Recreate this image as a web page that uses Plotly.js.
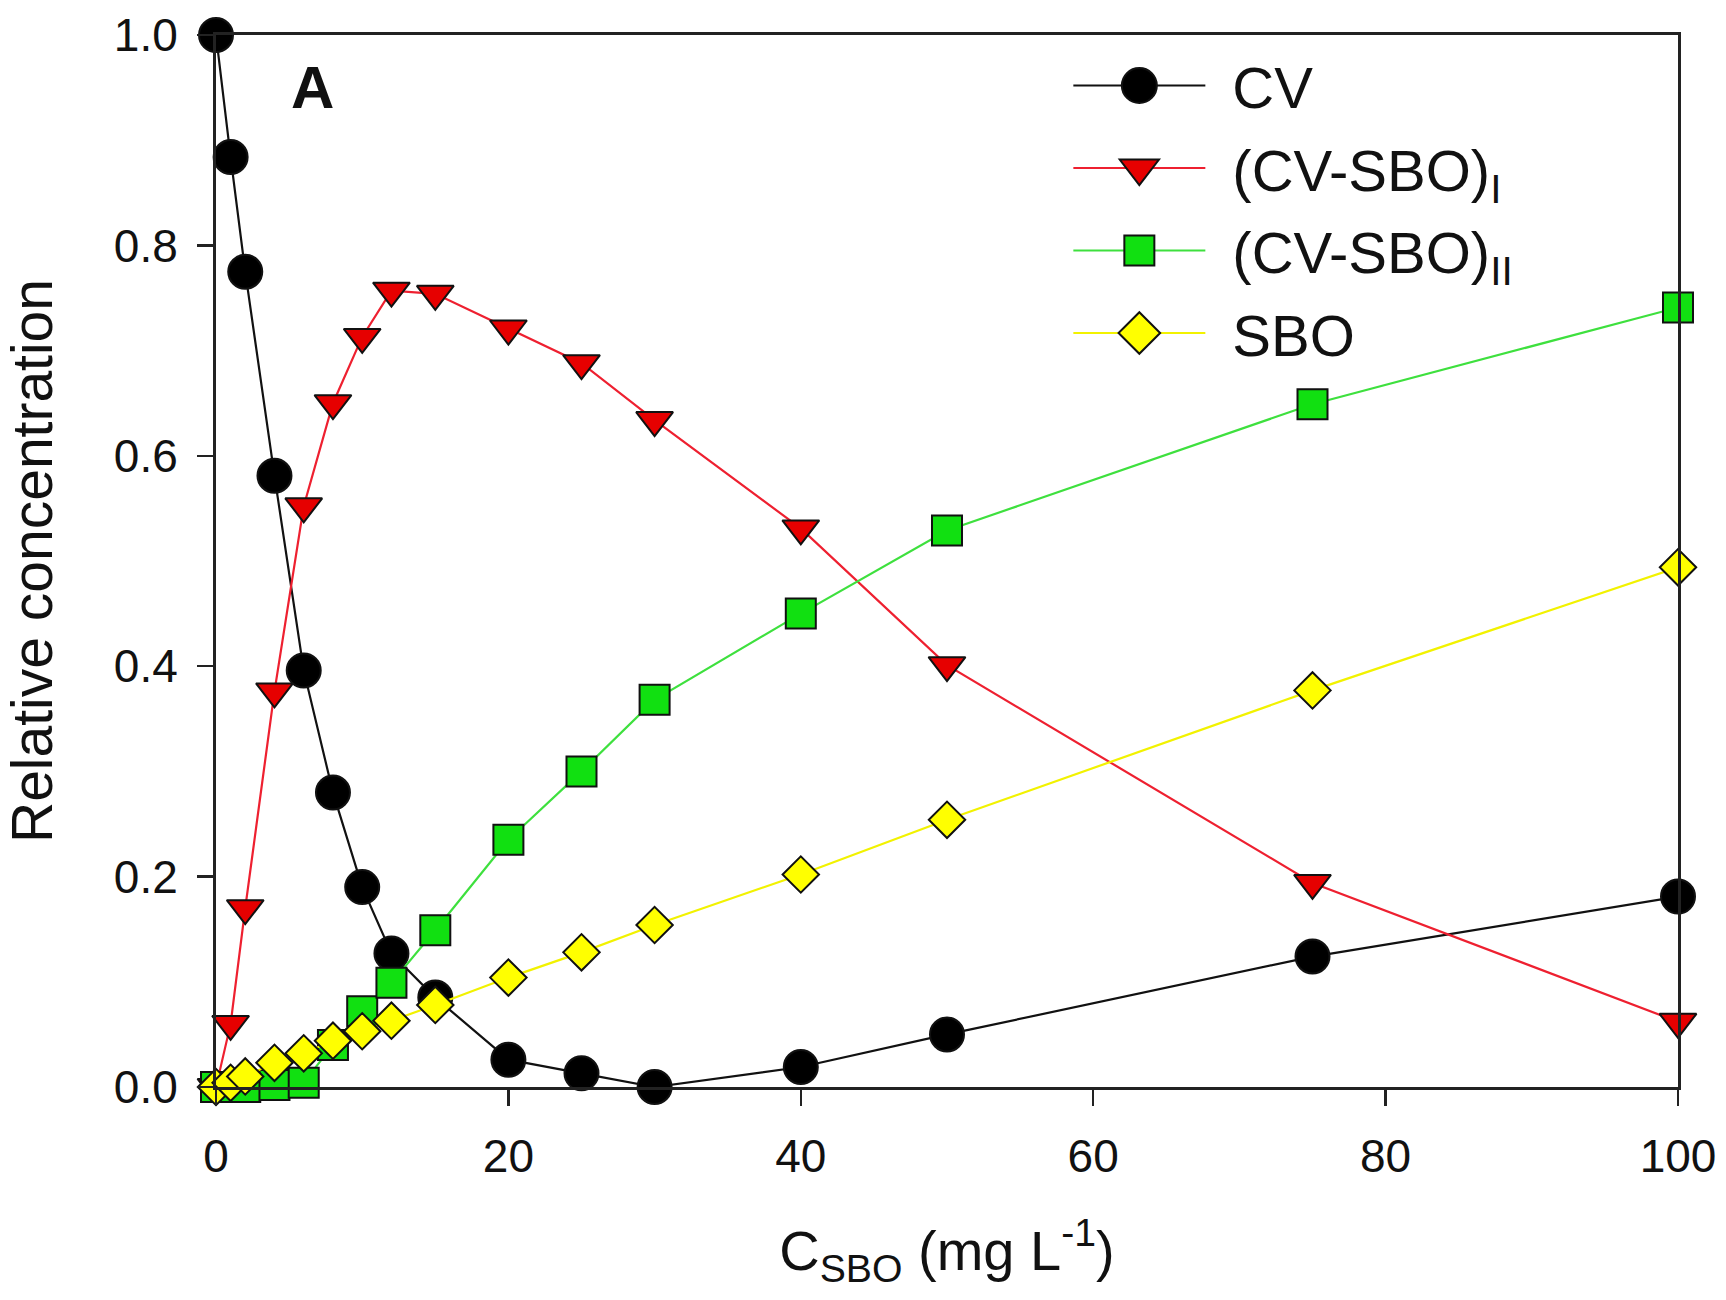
<!DOCTYPE html>
<html>
<head>
<meta charset="utf-8">
<script src="https://cdn.plot.ly/plotly-3.0.1.min.js"></script>
<style>html,body{margin:0;padding:0;background:#fff;}#chart{width:1726px;height:1300px;}</style>
</head>
<body>
<div id="chart"></div>
<script>
// C_SBO (mg L^-1)
const csbo = [0, 1, 2, 4, 6, 8, 10, 12, 15, 20, 25, 30, 40, 50, 75, 100];
// Relative concentrations
const cv      = [1.000, 0.884, 0.775, 0.581, 0.396, 0.280, 0.190, 0.127, 0.085, 0.026, 0.013, 0.000, 0.019, 0.050, 0.124, 0.181];
const cvSboI  = [0.000, 0.060, 0.170, 0.376, 0.552, 0.650, 0.713, 0.757, 0.754, 0.721, 0.688, 0.634, 0.531, 0.401, 0.194, 0.062];
const cvSboII = [0.000, 0.000, 0.000, 0.002, 0.004, 0.040, 0.072, 0.099, 0.149, 0.235, 0.300, 0.368, 0.450, 0.529, 0.649, 0.741];
const sbo     = [0.000, 0.004, 0.010, 0.023, 0.032, 0.044, 0.053, 0.063, 0.078, 0.104, 0.128, 0.154, 0.202, 0.254, 0.377, 0.494];
const seriesNames = ['CV', '(CV-SBO)<sub>I</sub>', '(CV-SBO)<sub>II</sub>', 'SBO'];
const xTicks = [0, 20, 40, 60, 80, 100];
const yTicks = [0, 0.2, 0.4, 0.6, 0.8, 1.0];

const FONT = 'Liberation Sans, Arial, Helvetica, sans-serif';
const markerSizes = [34, 32, 30, 28];
const legendMarkerSizes = [35, 34, 30, 32];
const legendRowSpacing = 82.5;
const legendTextShift = 22;

function tr(y, name, lineColor, sym, fill, size) {
  return {
    x: csbo, y: y, name: name, type: 'scatter', mode: 'lines+markers',
    cliponaxis: false,
    line: {color: lineColor, width: 2.2},
    marker: {symbol: sym, size: size, color: fill, line: {color: '#111', width: 2}}
  };
}

const data = [
  tr(cv, seriesNames[0], '#111111', 'circle', '#000000', markerSizes[0]),
  tr(cvSboI, seriesNames[1], '#ee2030', 'triangle-down', '#e60000', markerSizes[1]),
  tr(cvSboII, seriesNames[2], '#3ee03e', 'square', '#11e011', markerSizes[2]),
  tr(sbo, seriesNames[3], '#f2f200', 'diamond', '#ffff00', markerSizes[3])
];

const axisCommon = {
  showline: true, linecolor: '#222', linewidth: 3, mirror: true,
  showgrid: false, zeroline: false,
  ticks: 'outside', ticklen: 16, tickwidth: 2.5, tickcolor: '#222',
  tickfont: {family: FONT, size: 46, color: '#111'}
};

const layout = {
  width: 1726, height: 1300,
  paper_bgcolor: '#ffffff', plot_bgcolor: '#ffffff',
  margin: {l: 216, r: 48, t: 35, b: 213},
  font: {family: FONT, color: '#111'},
  showlegend: true,
  legend: {
    x: 0.583, y: 0.994, xanchor: 'left', yanchor: 'top',
    bgcolor: 'rgba(0,0,0,0)', borderwidth: 0,
    font: {family: FONT, size: 58, color: '#111'},
    traceorder: 'normal',
    itemsizing: 'trace', itemwidth: 132
  },
  xaxis: Object.assign({}, axisCommon, {
    range: [0, 100], tickvals: xTicks, ticktext: xTicks.map(String),
    ticklabelstandoff: 11,
    title: {text: 'C<sub>SBO</sub> (mg L<sup>-1</sup>)', font: {family: FONT, size: 56, color: '#111'}, standoff: 50}
  }),
  yaxis: Object.assign({}, axisCommon, {
    range: [0, 1], tickvals: yTicks, ticktext: yTicks.map(v => v.toFixed(1)),
    ticklabelstandoff: 10,
    title: {text: 'Relative concentration', font: {family: FONT, size: 57, color: '#111'}, standoff: 46}
  }),
  annotations: [{
    xref: 'paper', yref: 'paper', x: 0.066, y: 0.95, xanchor: 'center', yanchor: 'middle',
    text: '<b>A</b>', showarrow: false, font: {family: FONT, size: 60, color: '#111'}
  }]
};

Plotly.newPlot('chart', data, layout, {displayModeBar: false, staticPlot: true}).then(function (gd) {
  const box = gd.querySelector('.legend .scrollbox');
  if (box) box.removeAttribute('clip-path');
  const items = gd.querySelectorAll('.legend .traces');
  let y0 = null;
  items.forEach(function (item, i) {
    // enlarge legend symbols to match the figure's legend
    item.querySelectorAll('.legendpoints path.scatterpts').forEach(function (p) {
      const t = p.getAttribute('transform') || '';
      const s = legendMarkerSizes[i] / 16;
      p.setAttribute('transform', t + ' scale(' + s + ')');
      p.style.vectorEffect = 'non-scaling-stroke';
    });
    // gap between symbol and label
    const txt = item.querySelector('text.legendtext');
    if (txt) txt.setAttribute('transform', 'translate(' + legendTextShift + ',0)');
    // even row spacing
    const m = /translate\(\s*([-\d.]+)[ ,]+([-\d.]+)\s*\)/.exec(item.getAttribute('transform') || '');
    if (m) {
      if (y0 === null) y0 = parseFloat(m[2]);
      item.setAttribute('transform', 'translate(' + m[1] + ',' + (y0 + i * legendRowSpacing) + ')');
    }
  });
});
</script>
</body>
</html>
